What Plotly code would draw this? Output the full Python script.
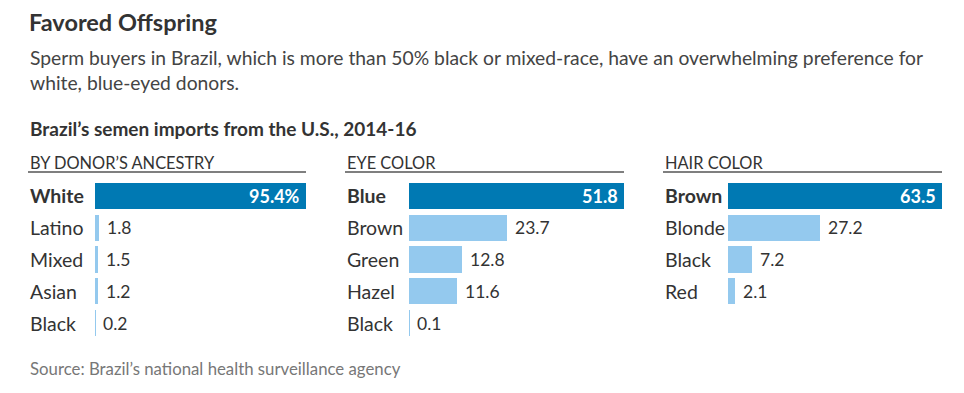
import plotly.graph_objects as go

W, H = 964, 393

ancestry_labels = ["White", "Latino", "Mixed", "Asian", "Black"]
ancestry_values = [95.4, 1.8, 1.5, 1.2, 0.2]
eye_labels = ["Blue", "Brown", "Green", "Hazel", "Black"]
eye_values = [51.8, 23.7, 12.8, 11.6, 0.1]
hair_labels = ["Brown", "Blonde", "Black", "Red"]
hair_values = [63.5, 27.2, 7.2, 2.1]

panel_titles = ["BY DONOR\u2019S ANCESTRY", "EYE COLOR", "HAIR COLOR"]

DARK = "#0079b3"
LIGHT = "#94c9ee"
TEXT = "#333333"
FONT = "Lato"

def px(x):
    return x / W

def py(y):
    return 1 - y / H

panels = [
    (ancestry_labels, ancestry_values, "%"),
    (eye_labels, eye_values, ""),
    (hair_labels, hair_values, ""),
]
# pixel layout: label x, bar start, bar end (line end)
geo = [(28, 95, 306), (345, 409, 624), (663, 728, 942)]
ytop, ybot = 180, 339

fig = go.Figure()
annotations = []
shapes = []
for i, ((labels, values, suffix), (lx, bx0, bx1)) in enumerate(zip(panels, geo)):
    n = i + 1
    xa = "x" if n == 1 else f"x{n}"
    ya = "y" if n == 1 else f"y{n}"
    colors = [DARK] + [LIGHT] * (len(values) - 1)
    fig.add_trace(go.Bar(
        x=values, y=labels, orientation="h", marker=dict(color=colors, line=dict(width=0)),
        width=0.82, xaxis=xa, yaxis=ya, hoverinfo="skip", showlegend=False,
    ))
    fig.layout[f"xaxis{'' if n == 1 else n}"] = dict(
        domain=[px(bx0), px(bx1)], range=[0, values[0]], visible=False, fixedrange=True,
        anchor=ya,
    )
    fig.layout[f"yaxis{'' if n == 1 else n}"] = dict(
        domain=[py(ybot), py(ytop)], range=[4.5, -0.5], visible=False, fixedrange=True,
        anchor=xa, type="category", categoryorder="array", categoryarray=labels,
    )
    for j, (lab, val) in enumerate(zip(labels, values)):
        annotations.append(dict(
            x=px(lx), xref="paper", y=lab, yref=ya, xanchor="left", yanchor="middle",
            text=f"<b>{lab}</b>" if j == 0 else lab, showarrow=False,
            font=dict(size=19.5, color=TEXT, family=FONT),
        ))
        if j == 0:
            annotations.append(dict(
                x=val, xref=xa, y=lab, yref=ya, xanchor="right", yanchor="middle",
                xshift=-4, text=f"<b>{val}{suffix}</b>", showarrow=False,
                font=dict(size=18, color="white", family=FONT),
            ))
        else:
            annotations.append(dict(
                x=val, xref=xa, y=lab, yref=ya, xanchor="left", yanchor="middle",
                xshift=6, text=f"{val}", showarrow=False,
                font=dict(size=17.5, color=TEXT, family=FONT),
            ))
    annotations.append(dict(
        x=px(lx), xref="paper", y=py(162), yref="paper", xanchor="left", yanchor="middle",
        text=panel_titles[i], showarrow=False, font=dict(size=16.4, color=TEXT, family=FONT),
    ))
    shapes.append(dict(type="line", xref="paper", yref="paper", x0=px(lx), x1=px(bx1),
                       y0=py(172), y1=py(172), line=dict(color="#555555", width=1.5)))

annotations += [
    dict(x=px(27), y=py(22), text="<b>Favored Offspring</b>",
         font=dict(size=23.5, color=TEXT, family=FONT)),
    dict(x=px(28), y=py(58),
         text="Sperm buyers in Brazil, which is more than 50% black or mixed-race, have an overwhelming preference for",
         font=dict(size=19.3, color="#444444", family=FONT)),
    dict(x=px(28), y=py(83), text="white, blue-eyed donors.",
         font=dict(size=19.3, color="#444444", family=FONT)),
    dict(x=px(28), y=py(128), text="<b>Brazil\u2019s semen imports from the U.S., 2014-16</b>",
         font=dict(size=19, color=TEXT, family=FONT)),
    dict(x=px(28), y=py(368), text="Source: Brazil\u2019s national health surveillance agency",
         font=dict(size=16.8, color="#777777", family=FONT)),
]
for a in annotations[-5:]:
    a.update(xref="paper", yref="paper", xanchor="left", yanchor="middle", showarrow=False)

fig.update_layout(
    width=W, height=H, margin=dict(l=0, r=0, t=0, b=0),
    paper_bgcolor="white", plot_bgcolor="white",
    annotations=annotations, shapes=shapes, bargap=0,
)
fig.write_html("out.html", config={"displayModeBar": False},
               post_script="document.body.style.margin='0';document.body.style.padding='0';")
